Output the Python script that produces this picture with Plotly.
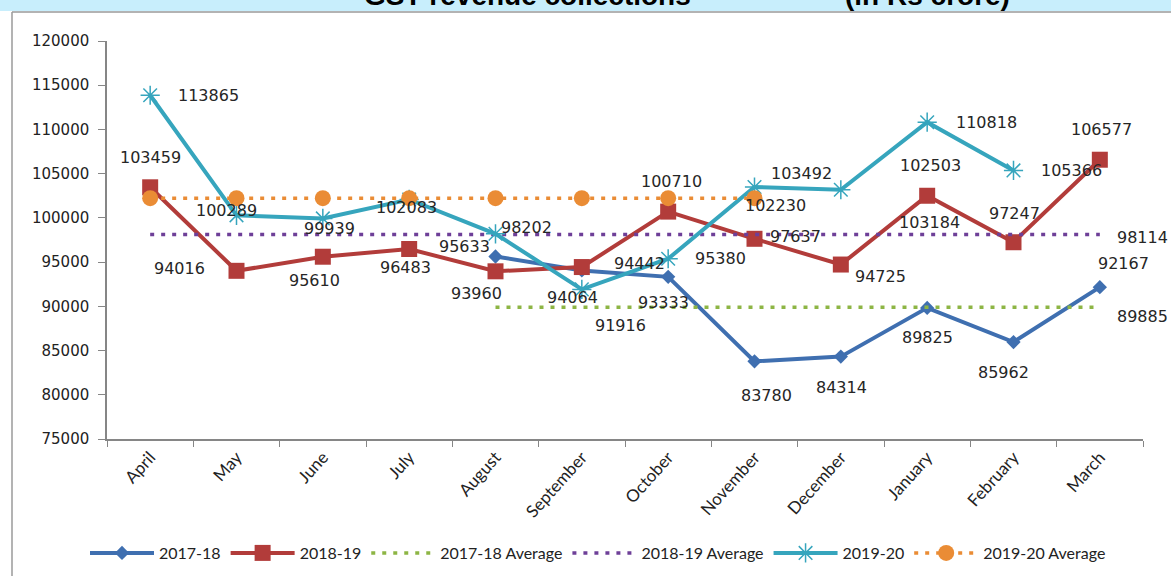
import plotly.graph_objects as go

months = ["April", "May", "June", "July", "August", "September", "October",
          "November", "December", "January", "February", "March"]

# 2017-18 (August to March)
fy1718_months = months[4:]
fy1718 = [95633, 94064, 93333, 83780, 84314, 89825, 85962, 92167]
fy1718_avg = 89885

# 2018-19 (full year)
fy1819 = [103459, 94016, 95610, 96483, 93960, 94442, 100710, 97637, 94725,
          102503, 97247, 106577]
fy1819_avg = 98114

# 2019-20 (April to February)
fy1920_months = months[:11]
fy1920 = [113865, 100289, 99939, 102083, 98202, 91916, 95380, 103492, 103184,
          110818, 105366]
fy1920_avg = 102230
fy1920_avg_months = months[:8]

y_ticks = list(range(75000, 120001, 5000))

# label offsets (pixels) for the data labels
off1718 = [(-31, -10), (-9, 27), (-5, 26), (12, 34), (1, 31), (0, 30), (-10, 30), (24, -24)]
off1819 = [(0, -30), (-57, -2), (-8, 24), (-4, 19), (-19, 22), (58, -4), (3, -30),
           (41, -2), (40, 12), (3, -30), (1, -29), (2, -30)]
off1920 = [(58, 0), (-10, -5), (7, 10), (-3, 8), (31, -6), (39, 36), (52, 0),
           (47, -14), (89, 33), (59, 0), (58, 0)]

C_BLUE = "#3f6fb0"
C_RED = "#b23c3a"
C_GREEN = "#8db544"
C_PURPLE = "#6e3f98"
C_CYAN = "#36a5bd"
C_ORANGE = "#ea8c35"
DOT = "4px,7px"

fig = go.Figure()
fig.add_trace(go.Scatter(x=fy1718_months, y=fy1718, name="2017-18", mode="lines+markers",
                         line=dict(color=C_BLUE, width=4),
                         marker=dict(symbol="diamond", size=11, color=C_BLUE)))
fig.add_trace(go.Scatter(x=months, y=fy1819, name="2018-19", mode="lines+markers",
                         line=dict(color=C_RED, width=4),
                         marker=dict(symbol="square", size=16, color=C_RED)))
fig.add_trace(go.Scatter(x=fy1718_months, y=[fy1718_avg] * len(fy1718_months),
                         name="2017-18 Average", mode="lines",
                         line=dict(color=C_GREEN, width=3.5, dash=DOT)))
fig.add_trace(go.Scatter(x=months, y=[fy1819_avg] * len(months),
                         name="2018-19 Average", mode="lines",
                         line=dict(color=C_PURPLE, width=3.5, dash=DOT)))
fig.add_trace(go.Scatter(x=fy1920_months, y=fy1920, name="2019-20", mode="lines+markers",
                         line=dict(color=C_CYAN, width=4),
                         marker=dict(symbol="asterisk-open", size=16,
                                     line=dict(color=C_CYAN, width=1.5))))
fig.add_trace(go.Scatter(x=fy1920_avg_months, y=[fy1920_avg] * len(fy1920_avg_months),
                         name="2019-20 Average", mode="lines+markers",
                         line=dict(color=C_ORANGE, width=3.5, dash=DOT),
                         marker=dict(symbol="circle", size=16, color=C_ORANGE)))

LBL = dict(family="DejaVu Sans", size=16, color="#262626")
ann = []
def add_labels(xs, ys, offs):
    for x, y, (dx, dy) in zip(xs, ys, offs):
        ann.append(dict(x=x, y=y, xref="x", yref="y", text=str(y), showarrow=False,
                        xshift=dx, yshift=-dy, font=LBL))

add_labels(fy1718_months, fy1718, off1718)
add_labels(months, fy1819, off1819)
add_labels(fy1920_months, fy1920, off1920)
add_labels(["March"], [fy1718_avg], [(43, 9)])
add_labels(["March"], [fy1819_avg], [(43, 3)])
add_labels(["November"], [fy1920_avg], [(21, 7)])

def px(p):
    return (p - 107) / 1036

def py(q):
    return (439 - q) / 398

# cut-off title at the very top
TFONT = dict(family="Liberation Sans", size=28, color="#000000")
ann.append(dict(x=px(527), y=py(13), xref="paper", yref="paper",
                text="<b>GST revenue collections</b>", showarrow=False,
                xanchor="center", yanchor="bottom", font=TFONT))
ann.append(dict(x=px(927), y=py(13), xref="paper", yref="paper",
                text="<b>(in Rs crore)</b>", showarrow=False,
                xanchor="center", yanchor="bottom", font=TFONT))

shapes = [
    dict(type="rect", xref="paper", yref="paper", x0=px(-5), x1=px(1180), y0=py(11), y1=py(-5),
         fillcolor="#c8eefc", line=dict(width=0), layer="below"),
    dict(type="line", xref="paper", yref="paper", x0=px(12), x1=px(1180), y0=py(12), y1=py(12),
         line=dict(color="#9a9a9a", width=1.5)),
    dict(type="line", xref="paper", yref="paper", x0=px(12), x1=px(12), y0=py(12), y1=py(580),
         line=dict(color="#9a9a9a", width=1.5)),
]

fig.update_layout(
    width=1171, height=576,
    margin=dict(l=107, r=28, t=41, b=137, autoexpand=False),
    paper_bgcolor="white", plot_bgcolor="white",
    showlegend=True,
    legend=dict(orientation="h", xref="container", yref="container",
                x=598 / 1171, y=1 - 553 / 576,
                xanchor="center", yanchor="middle", itemwidth=64,
                font=dict(family="Lato", size=16, color="#222222"),
                bgcolor="rgba(0,0,0,0)"),
    annotations=ann,
    shapes=shapes,
    xaxis=dict(type="category", categoryorder="array", categoryarray=months,
               range=[-0.5, 11.5], showgrid=False, showline=True, linecolor="#868686",
               linewidth=1.5, ticks="outside", ticklen=6, tickcolor="#868686",
               tickson="boundaries", tickangle=-48, automargin=False,
               tickfont=dict(family="Lato", size=17, color="#222222")),
    yaxis=dict(range=[75000, 120000], tickvals=y_ticks, tickformat="d",
               showgrid=False, showline=True, linecolor="#868686", linewidth=1.5,
               ticks="outside", ticklen=7, tickcolor="#868686", zeroline=False,
               automargin=False, ticklabelstandoff=6,
               tickfont=dict(family="DejaVu Sans", size=15, color="#222222")),
)

fig.write_html("out.html", config={"displayModeBar": False},
               post_script="document.body.style.margin='0';document.body.style.overflow='hidden';")
